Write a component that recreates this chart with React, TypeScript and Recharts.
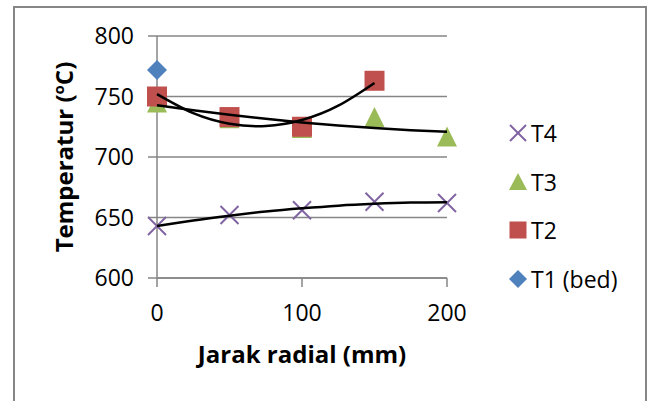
import React from 'react';
import { ScatterChart, Scatter, XAxis, YAxis, CartesianGrid } from 'recharts';

// Jarak radial (mm)
const radialMm = [0, 50, 100, 150, 200];
// measured temperatures (°C)
const t1Bed = [772];
const t2 = [750, 733, 725, 763];
const t3 = [745, 732, 724, 733, 717];
const t4 = [643, 652, 656, 663, 662];

// trendlines
const trendX = [0, 25, 50, 75, 100, 125, 150, 175, 200];
const t2Trend = [751.9, 736.2, 727.5, 725.6, 730.6, 742.4, 761.2];
const t3Trend = [742.8, 738.7, 734.9, 731.6, 728.6, 726.1, 723.9, 722.2, 720.8];
const t4Trend = [643.0, 647.6, 651.5, 654.9, 657.6, 659.8, 661.3, 662.3, 662.6];

const xTicks = [0, 100, 200];
const yTicks = [600, 650, 700, 750, 800];

const FONT = '"Open Sans", sans-serif';
const GRAY = '#868686';

const BLUE = '#4F81BD';
const RED = '#C0504D';
const GREEN = '#9BBB59';
const PURPLE = '#8064A2';

const toPoints = (xs: number[], ys: number[]) => ys.map((y, i) => ({ x: xs[i], y }));

const Diamond = ({ cx, cy }: any) => (
  <polygon points={`${cx},${cy - 10} ${cx + 10},${cy} ${cx},${cy + 10} ${cx - 10},${cy}`} fill={BLUE} />
);
const Square = ({ cx, cy }: any) => <rect x={cx - 10} y={cy - 10} width={20} height={20} fill={RED} />;
const Triangle = ({ cx, cy }: any) => (
  <polygon points={`${cx},${cy - 10} ${cx + 10},${cy + 10} ${cx - 10},${cy + 10}`} fill={GREEN} />
);
const Cross = ({ cx, cy }: any) => (
  <g stroke={PURPLE} strokeWidth={2}>
    <line x1={cx - 9} y1={cy - 9} x2={cx + 9} y2={cy + 9} />
    <line x1={cx - 9} y1={cy + 9} x2={cx + 9} y2={cy - 9} />
  </g>
);
const NoDot = () => <g />;

const YTitle = (props: any) => {
  const { viewBox } = props;
  const x = viewBox.x + 16;
  const y = viewBox.y + viewBox.height / 2;
  return (
    <text
      x={x}
      y={y}
      transform={`rotate(-90 ${x} ${y})`}
      textAnchor="middle"
      fontFamily={FONT}
      fontWeight={700}
      fontSize={24}
      fill="#000"
    >
      Temperatur (
      <tspan fontSize={15} dy={-9}>
        o
      </tspan>
      <tspan dy={9}>C)</tspan>
    </text>
  );
};

const LEGEND = [
  { label: 'T4', icon: 'cross' },
  { label: 'T3', icon: 'triangle' },
  { label: 'T2', icon: 'square' },
  { label: 'T1 (bed)', icon: 'diamond' },
];

function LegendIcon({ kind }: { kind: string }) {
  return (
    <svg width={20} height={20} style={{ display: 'block' }}>
      {kind === 'cross' && (
        <g stroke={PURPLE} strokeWidth={2}>
          <line x1={2} y1={2} x2={18} y2={18} />
          <line x1={2} y1={18} x2={18} y2={2} />
        </g>
      )}
      {kind === 'triangle' && <polygon points="10,1 19,18 1,18" fill={GREEN} />}
      {kind === 'square' && <rect x={1.5} y={1.5} width={17} height={17} fill={RED} />}
      {kind === 'diamond' && <polygon points="10,1 19,10 10,19 1,10" fill={BLUE} />}
    </svg>
  );
}

export default function App() {
  return (
    <div
      style={{
        position: 'absolute',
        left: 0,
        top: 0,
        width: 651,
        height: 401,
        overflow: 'hidden',
        background: '#fff',
        fontFamily: FONT,
      }}
    >
      <div
        style={{
          position: 'absolute',
          left: 13,
          top: 6,
          width: 630,
          height: 420,
          border: `2px solid ${GRAY}`,
          borderBottom: 'none',
        }}
      />
      <div style={{ position: 'absolute', left: 0, top: 0 }}>
        <ScatterChart width={651} height={401} margin={{ top: 36, right: 204, bottom: 93, left: 57 }}>
          <CartesianGrid horizontal vertical={false} stroke={GRAY} strokeWidth={1.5} />
          <XAxis
            type="number"
            dataKey="x"
            domain={[0, 200]}
            ticks={xTicks}
            height={30}
            tickSize={9}
            tickMargin={18}
            stroke={GRAY}
            strokeWidth={1.5}
            tick={{ fontSize: 23, fill: '#000', fontFamily: FONT }}
            label={{
              value: 'Jarak radial (mm)',
              position: 'bottom',
              offset: 38,
              fontSize: 24,
              fontWeight: 700,
              fill: '#000',
              fontFamily: FONT,
            }}
          />
          <YAxis
            type="number"
            dataKey="y"
            domain={[600, 800]}
            ticks={yTicks}
            width={100}
            tickSize={9}
            tickMargin={14}
            stroke={GRAY}
            strokeWidth={1.5}
            tick={{ fontSize: 23, fill: '#000', fontFamily: FONT }}
            label={{ value: 'Temperatur (oC)', content: YTitle }}
          />
          <Scatter name="T4" data={toPoints(radialMm, t4)} shape={Cross} isAnimationActive={false} />
          <Scatter name="T3" data={toPoints(radialMm, t3)} shape={Triangle} isAnimationActive={false} />
          <Scatter name="T2" data={toPoints(radialMm, t2)} shape={Square} isAnimationActive={false} />
          <Scatter name="T1 (bed)" data={toPoints(radialMm, t1Bed)} shape={Diamond} isAnimationActive={false} />
          <Scatter
            name="T4 trend"
            data={toPoints(trendX, t4Trend)}
            shape={NoDot}
            line={{ stroke: '#000', strokeWidth: 2.5 }}
            lineJointType="natural"
            isAnimationActive={false}
          />
          <Scatter
            name="T3 trend"
            data={toPoints(trendX, t3Trend)}
            shape={NoDot}
            line={{ stroke: '#000', strokeWidth: 2.5 }}
            lineJointType="natural"
            isAnimationActive={false}
          />
          <Scatter
            name="T2 trend"
            data={toPoints(trendX, t2Trend)}
            shape={NoDot}
            line={{ stroke: '#000', strokeWidth: 2.5 }}
            lineJointType="natural"
            isAnimationActive={false}
          />
        </ScatterChart>
      </div>
      <div style={{ position: 'absolute', left: 508, top: 109, fontSize: 23, color: '#000' }}>
        {LEGEND.map((item) => (
          <div key={item.label} style={{ display: 'flex', alignItems: 'center', height: 48.5 }}>
            <LegendIcon kind={item.icon} />
            <span style={{ marginLeft: 3, whiteSpace: 'nowrap' }}>{item.label}</span>
          </div>
        ))}
      </div>
    </div>
  );
}
